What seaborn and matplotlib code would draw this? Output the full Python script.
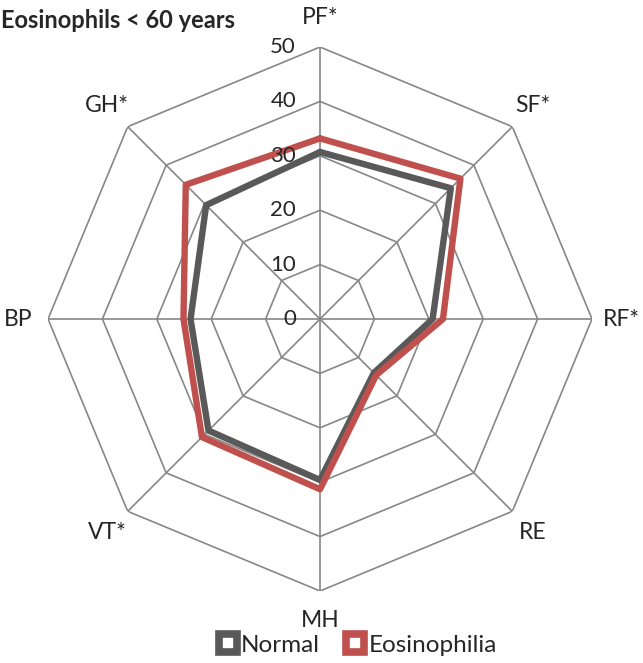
import numpy as np
import pandas as pd
import matplotlib
matplotlib.use("Agg")
import matplotlib.pyplot as plt
import matplotlib.transforms as mtransforms
from matplotlib.lines import Line2D
import seaborn as sns

# values
categories = ["PF*", "SF*", "RF*", "RE", "MH", "VT*", "BP", "GH*"]
normal = [30.7, 34, 20.7, 14, 29.6, 29, 23.8, 29.6]
eosinophilia = [33.2, 36.5, 22.6, 14.6, 31.3, 30.7, 25.1, 34.9]
ring_values = [10, 20, 30, 40, 50]
tick_labels = ["0", "10", "20", "30", "40", "50"]

sns.set_theme(style="white")
plt.rcParams["font.family"] = ["Lato", "DejaVu Sans"]

n = len(categories)
angles = np.linspace(0, 2 * np.pi, n, endpoint=False)
closed = np.append(angles, angles[0])

rows = []
for name, vals in [("Normal", normal), ("Eosinophilia", eosinophilia)]:
    for i, t in enumerate(closed):
        rows.append({"theta": t, "value": vals[i % n], "group": name, "order": i})
df = pd.DataFrame(rows)

fig = plt.figure(figsize=(6.43, 6.63), dpi=100)
ax = fig.add_axes([0.0747, 0.1086, 0.846, 0.8205], projection="polar")
ax.set_theta_zero_location("N")
ax.set_theta_direction(-1)
ax.set_ylim(0, 50)
ax.grid(False)
ax.spines["polar"].set_visible(False)
ax.set_xticks([])
ax.set_yticks([])
ax.set_facecolor("white")

grid_color = "#878787"
for r in ring_values:
    ax.plot(closed, [r] * len(closed), color=grid_color, lw=1.2, zorder=1)
for t in angles:
    ax.plot([t, t], [0, 50], color=grid_color, lw=1.2, zorder=1)

palette = {"Normal": "#595959", "Eosinophilia": "#C0504D"}
sns.lineplot(data=df, x="theta", y="value", hue="group", palette=palette,
             sort=False, estimator=None, units="group", lw=4.6, ax=ax,
             legend=False, zorder=3)
ax.set_xlabel("")
ax.set_ylabel("")
ax.set_ylim(0, 50)

# radial tick labels left of the top spoke
off = mtransforms.offset_copy(ax.transData, fig=fig, x=-0.24, y=0, units="inches")
for v, lab in zip([0] + ring_values, tick_labels):
    ax.text(0, v, lab, transform=off, ha="right", va="center", fontsize=16)

# category labels
for t, lab in zip(angles, categories):
    ax.text(t, 55.4, lab, ha="center", va="center", fontsize=16.5)

fig.text(0.002, 0.969, "Eosinophils < 60 years", fontsize=17, fontweight="bold",
         ha="left", va="center")

handles = [Line2D([], [], marker="s", ls="none", markersize=12.5,
                  markerfacecolor="white", markeredgecolor=palette[g],
                  markeredgewidth=5.5, label=g) for g in ["Normal", "Eosinophilia"]]
fig.legend(handles=handles, loc="center", bbox_to_anchor=(0.555, 0.027), ncol=2,
           frameon=False, fontsize=17.5, handletextpad=0.1, columnspacing=1.0,
           handlelength=0.9, borderpad=0)

fig.savefig("out.png", dpi=100, facecolor="white")
